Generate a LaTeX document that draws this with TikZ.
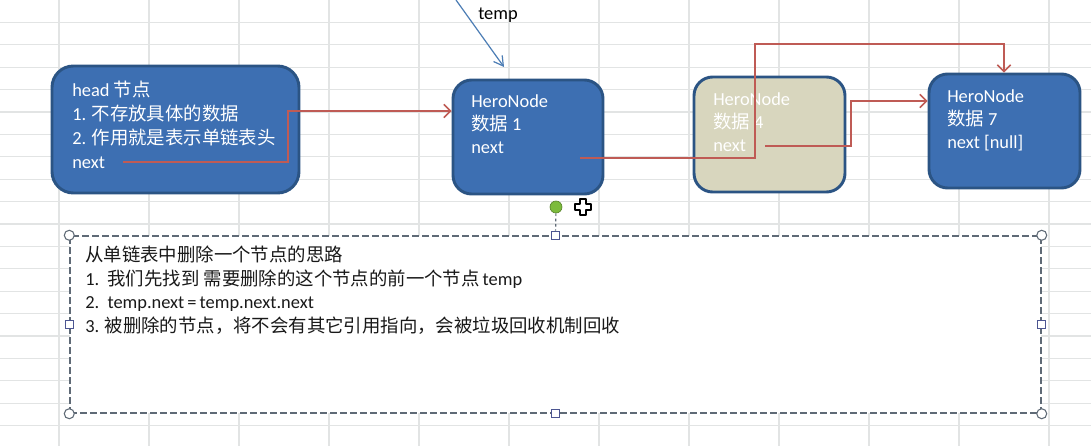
\documentclass[tikz,border=0pt]{standalone}
\usepackage{fontspec}
\setmainfont{Carlito}
\newfontfamily\cjk{Noto Sans CJK SC}
\newcommand\zhtxt[1]{{\cjk #1}}
\usetikzlibrary{arrows.meta,fit,calc}
\definecolor{nodeblue}{HTML}{3D6FB2}
\definecolor{nodeedge}{HTML}{2B5484}
\definecolor{beige}{HTML}{D8D6BE}
\definecolor{linkred}{HTML}{BF5B55}
\definecolor{tempblue}{HTML}{4C7DB5}
\definecolor{gridgray}{HTML}{E2E4E4}
\definecolor{handlegray}{HTML}{5F6A76}
\definecolor{rotgreen}{HTML}{7CBB3C}
\begin{document}
\begin{tikzpicture}[x=0.75pt,y=-0.75pt,
  listbox/.style={draw=nodeedge, line width=2.2pt, rounded corners=14pt, inner sep=0pt, fill=nodeblue},
  boxtext/.style={anchor=north west, inner sep=0pt, align=left, text=white, font=\fontsize{13.8}{17.6}\selectfont},
  link/.style={draw=linkred, line width=1.1pt, -{Straight Barb[length=5pt,width=10pt]}},
  gridline/.style={draw=gridgray, line width=1pt},
  cornerhandle/.style={circle, draw=handlegray, fill=white, line width=0.8pt, minimum size=7.5pt, inner sep=0pt},
  sidehandle/.style={rectangle, draw=handlegray!80!blue, fill=white, line width=0.8pt, minimum size=6pt, inner sep=0pt}]
\useasboundingbox (0,0) rectangle (1091,446);
\fill[white] (0,0) rectangle (1091,446);
% spreadsheet grid
\foreach \gx in {59,149,...,1049} \draw[gridline] (\gx,0) -- (\gx,446);
\foreach \gk in {1,...,19} \draw[gridline] (0,{\gk*22.4}) -- (1091,{\gk*22.4});

% list nodes
\node[listbox, fit={(52,66) (299,193)}, rounded corners=16pt] (head) {};
\node[listbox, fit={(453,80) (603,194)}] (n1) {};
\node[listbox, fit={(694,77) (845,192)}, fill=beige] (n4) {};
\node[listbox, fit={(929,74) (1080,188)}] (n7) {};

\node[boxtext, font=\fontsize{13.8}{18}\selectfont] (headtxt) at (72,81) {head \zhtxt{节点}\\1. \zhtxt{不存放具体的数据}\\2. \zhtxt{作用就是表示单链表头}\\next};
\node[boxtext] (n1txt) at (471,94) {HeroNode\\\zhtxt{数据} 1\\next};
\node[boxtext] (n4txt) at (713,92) {HeroNode\\\zhtxt{数据} 4\\next};
\node[boxtext] (n7txt) at (947,89) {HeroNode\\\zhtxt{数据} 7\\next [null]};

% links
\coordinate (hnext) at (123,162);
\coordinate (hbend) at (288,111);
\draw[link] (hnext) -- (hnext -| hbend) -- (hbend) -- (hbend -| n1.west);
\coordinate (n1next) at (580,158);
\coordinate (n1up) at (755,44);
\coordinate (n1over) at (1004,44);
\draw[link] (n1next) -- (n1next -| n1up) -- (n1up) -- (n1over) -- (n1over |- n7.north);
\coordinate (n4next) at (765,146);
\coordinate (n4bend) at (851,101);
\draw[link] (n4next) -- (n4next -| n4bend) -- (n4bend) -- (n4bend -| n7.west);

% temp pointer
\coordinate (tempstart) at (456,0);
\coordinate (tempend) at (504,67);
\draw[tempblue, line width=0.9pt, -{Straight Barb[length=7pt,width=8pt]}] (tempstart) -- (tempend);
\node[font=\fontsize{13.8}{16}\selectfont] (templbl) at (498,15) {temp};

% note box
\node[draw=handlegray, dash pattern=on 5pt off 2.5pt, line width=1.1pt, fill=white, fit={(70,236) (1041,413)}, inner sep=0pt] (note) {};
\node[anchor=north west, inner sep=0pt, align=left, text=black!90, font=\fontsize{13.8}{17.6}\selectfont] (notetxt) at (85,246)
 {\zhtxt{从单链表中删除一个节点的思路}\\1.~~\zhtxt{我们先找到 需要删除的这个节点的前一个节点}\,temp\\2.~~temp.next\,=\,temp.next.next\\3. \zhtxt{被删除的节点，将不会有其它引用指向，会被垃圾回收机制回收}};

% selection handles
\node[cornerhandle] (hnw) at (note.north west) {};
\node[cornerhandle] (hne) at (note.north east) {};
\node[cornerhandle] (hsw) at (note.south west) {};
\node[cornerhandle] (hse) at (note.south east) {};
\node[sidehandle] (hn) at (note.north) {};
\node[sidehandle] (hs) at (note.south) {};
\node[sidehandle] (hw) at (note.west) {};
\node[sidehandle] (he) at (note.east) {};
\node[circle, fill=rotgreen, draw=rotgreen!70!black, line width=0.5pt, minimum size=9pt, inner sep=0pt] (rot) at (556,207) {};
\draw[handlegray, line width=0.9pt, dash pattern=on 2pt off 2pt] (rot) -- (hn);
% move cursor
\draw[black, fill=white, line width=1.2pt, line join=round]
  (580,199) -- (586,199) -- (586,204) -- (591,204) -- (591,210) -- (586,210) -- (586,215) -- (580,215) -- (580,210) -- (575,210) -- (575,204) -- (580,204) -- cycle;
\end{tikzpicture}
\end{document}
